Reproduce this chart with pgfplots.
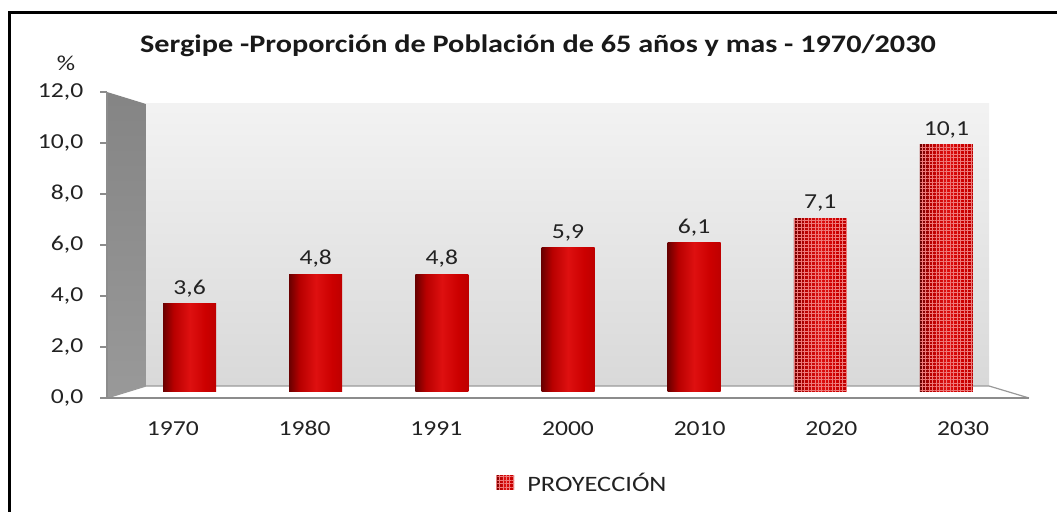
\documentclass[border=0pt]{standalone}
\usepackage{pgfplots}
\pgfplotsset{compat=1.18}
\usetikzlibrary{patterns.meta}
\usepackage{fontspec}
\setmainfont{Carlito}[FakeStretch=1.2]
\definecolor{txt}{HTML}{222222}
\definecolor{cA}{HTML}{6A0000}
\definecolor{cB}{HTML}{B80000}
\definecolor{cC}{HTML}{DE1010}
\definecolor{cD}{HTML}{CC0000}
\definecolor{cE}{HTML}{BE0000}
\definecolor{patc}{HTML}{EE7A7A}
\pgfdeclarehorizontalshading{cyl}{100bp}{color(0bp)=(cA); color(25bp)=(cA); color(35bp)=(cB); color(50bp)=(cC); color(65bp)=(cD); color(75bp)=(cE); color(100bp)=(cE)}
\pgfplotsset{
  cylbar/.style={forget plot, shading=cyl, draw=none},
  patbar/.style={forget plot, draw=none, pattern={Hatch[angle=0, distance=2.6pt, line width=0.22pt]}, pattern color=patc},
}
\begin{document}
\begin{tikzpicture}
\useasboundingbox (0,0) rectangle (792.75pt,383.25pt);
\begin{scope}[x=0.75pt,y=-0.75pt,yshift=383.25pt]
  % side wall
  \shade[top color=black!48, bottom color=black!40] (107,398)--(107,92)--(146,104)--(146,386)--cycle;
  % back wall
  \shade[top color=black!5, bottom color=black!15] (146,104) rectangle (989,386);
  % floor
  \fill[white] (107,398)--(146,386)--(989,386)--(1029,398)--cycle;
  \draw[black!40, line width=0.9pt] (107,398)--(146,386)--(989,386)--(1029,398);
  % frame
  \draw[black, line width=2.25pt] (9,515)--(9,13)--(1062,13);
  % title
  \node[font=\bfseries\fontsize{18.9}{22}\selectfont, text=black!90, anchor=base] at (538,53) {Sergipe -Proporción de Población de 65 años y mas - 1970/2030};
  \node[font=\fontsize{16}{19}\selectfont, text=txt] at (66,63) {\%};
  % legend
  \shade[shading=cyl] (496,475) rectangle (514,489);
  \fill[pattern={Hatch[angle=0, distance=2.6pt, line width=0.22pt]}, pattern color=patc] (496,475) rectangle (514,489);
  \node[font=\fontsize{16.5}{19}\selectfont, text=txt, anchor=west, inner sep=0pt] at (527,482) {PROYECCIÓN};
\end{scope}
% frame axis
\begin{axis}[
  at={(80.25pt,84.75pt)}, anchor=south west, scale only axis,
  width=691.5pt, height=229.5pt,
  xmin=0, xmax=7, ymin=0, ymax=12,
  axis lines*=left,
  axis line style={black!45, line width=0.9pt},
  tick style={black!45, line width=0.9pt},
  tick align=outside,
  ytick={0,2,...,12},
  major tick length=5.25pt,
  xtick={0.5,1.5,...,6.5},
  xticklabels={1970,1980,1991,2000,2010,2020,2030},
  x tick style={draw=none},
  extra x ticks={0,1,...,7},
  extra x tick labels={},
  extra x tick style={tick style={black!45, line width=0.9pt}},
  /pgf/number format/.cd, fixed, fixed zerofill, precision=1, use comma, assume math mode=true,
  /pgfplots/.cd,
  every tick label/.append style={font=\fontsize{16}{19}\selectfont, text=txt},
  xticklabel style={yshift=-8.5pt, text height=11pt, text depth=1pt},
  yticklabel style={xshift=-9pt},
]
\addplot[draw=none] coordinates {(0,0)};
\end{axis}
% bar axis
\begin{axis}[
  at={(94.875pt,89.25pt)}, anchor=south west, scale only axis,
  width=662.25pt, height=220.5pt,
  xmin=-0.5, xmax=6.5, ymin=0, ymax=12,
  hide axis, clip=false,
  ybar, bar width=39.75pt, bar shift=0pt,
]
\addplot[cylbar] coordinates {(0,3.6)};
\addplot[cylbar] coordinates {(1,4.8)};
\addplot[cylbar] coordinates {(2,4.8)};
\addplot[cylbar] coordinates {(3,5.9)};
\addplot[cylbar] coordinates {(4,6.1)};
\addplot[cylbar] coordinates {(5,7.1)};
\addplot[patbar] coordinates {(5,7.1)};
\addplot[cylbar] coordinates {(6,10.1)};
\addplot[patbar] coordinates {(6,10.1)};
\addplot[forget plot, draw=none, fill=none,
  nodes near coords,
  nodes near coords style={font=\fontsize{16}{19}\selectfont, text=txt, anchor=south, yshift=1.5pt,
    /pgf/number format/.cd, fixed, fixed zerofill, precision=1, use comma, assume math mode=true}]
  coordinates {(0,3.6) (1,4.8) (2,4.8) (3,5.9) (4,6.1) (5,7.1) (6,10.1)};
\end{axis}
\end{tikzpicture}
\end{document}
